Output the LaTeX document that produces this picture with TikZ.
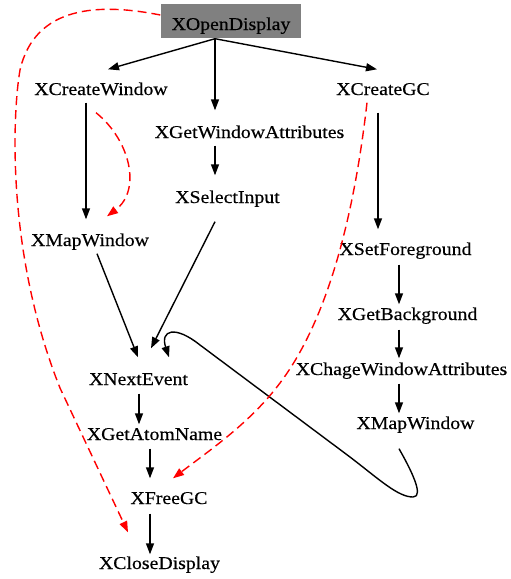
\documentclass[tikz,border=0pt]{standalone}
\usepackage{fontspec}
\setmainfont{Liberation Serif}[FakeStretch=1.1,FakeBold=0.4]
\usetikzlibrary{arrows.meta}
\begin{document}
\begin{tikzpicture}[x=1pt,y=-1pt,>={Triangle[length=11pt,width=8pt]},line width=1.4pt,line join=round,
  font=\fontsize{18}{20}\selectfont,
  lbl/.style={anchor=base,inner sep=0pt,text height=13pt,text depth=4pt},
  redge/.style={red,dash pattern=on 9pt off 5pt}]
\useasboundingbox (0,0) rectangle (511,579);
% nodes
\node[fill=gray,anchor=base,inner sep=0pt,text height=26pt,text depth=8pt,minimum width=140pt] (od) at (231,30) {XOpenDisplay};
\node[lbl] (cw) at (101,95) {XCreateWindow};
\node[lbl] (cgc) at (383,95) {XCreateGC};
\node[lbl] (gwa) at (249.5,138) {XGetWindowAttributes};
\node[lbl] (si) at (227.5,203) {XSelectInput};
\node[lbl] (mwa) at (90,246) {XMapWindow};
\node[lbl] (sf) at (405.5,255) {XSetForeground};
\node[lbl] (gb) at (407.5,320) {XGetBackground};
\node[lbl] (cwa) at (401.5,375) {XChageWindowAttributes};
\node[lbl] (mwb) at (415.5,429) {XMapWindow};
\node[lbl] (ne) at (138.5,385) {XNextEvent};
\node[lbl] (gan) at (154.5,440) {XGetAtomName};
\node[lbl] (fgc) at (169,504) {XFreeGC};
\node[lbl] (cd) at (159.5,569) {XCloseDisplay};
% black edges
\draw[->] ([xshift=-16pt]od.south) -- ([xshift=7pt,yshift=12pt]cw.north);
\draw[->] ([xshift=-16pt]od.south) -- ([xshift=-34.5pt,yshift=14pt]gwa.north);
\draw[->] ([xshift=-16pt]od.south) -- ([xshift=-6pt,yshift=12pt]cgc.north);
\draw[->] ([xshift=-15pt,yshift=-3pt]cw.south) -- ([xshift=-4pt,yshift=13pt]mwa.north);
\draw[->] ([xshift=-34.5pt,yshift=-3pt]gwa.south) -- ([xshift=-12.5pt,yshift=14pt]si.north);
\draw[->] ([xshift=-12.5pt,yshift=-14pt]si.south) -- ([xshift=12.5pt,yshift=23pt]ne.north);
\draw[->] ([xshift=7pt,yshift=-3pt]mwa.south) -- ([xshift=-0.5pt,yshift=14pt]ne.north);
\draw[->] ([xshift=-5pt,yshift=-13pt]cgc.south) -- ([xshift=-27.5pt,yshift=12pt]sf.north);
\draw[->] ([xshift=-6.5pt,yshift=-5pt]sf.south) -- ([xshift=-8.5pt,yshift=2pt]gb.north);
\draw[->] ([xshift=-8.5pt,yshift=-5pt]gb.south) -- ([xshift=-2.5pt,yshift=3pt]cwa.north);
\draw[->] ([xshift=-2.5pt,yshift=-4pt]cwa.south) -- ([xshift=-16.5pt,yshift=2pt]mwb.north);
\draw[->] ([xshift=0.5pt,yshift=-4pt]ne.south) -- ([xshift=-15.5pt,yshift=2pt]gan.north);
\draw[->] ([xshift=-4.5pt,yshift=-4pt]gan.south) -- ([xshift=-19pt,yshift=12pt]fgc.north);
\draw[->] ([xshift=-19pt,yshift=-5pt]fgc.south) -- ([xshift=-9.5pt,yshift=1pt]cd.north);
% loop back to XNextEvent
\draw[->] ([xshift=-16.5pt,yshift=-15pt]mwb.south) .. controls (410,468) and (425,497) .. (413,497)
  .. controls (398,497) and (380,480) .. (350,457) -- (200,345)
  .. controls (175,325) and (160,330) .. ([xshift=30.5pt,yshift=14pt]ne.north);
% red dashed edges
\draw[->,redge] ([xshift=-5pt,yshift=-13pt]cw.south) .. controls (130,140) and (142,190) .. ([xshift=17pt,yshift=16pt]mwa.north);
\draw[->,redge] ([xshift=-16pt,yshift=-3pt]cgc.south) .. controls (357,190) and (335,310) .. (280,383)
  .. controls (250,423) and (210,450) .. ([xshift=4pt,yshift=12pt]fgc.north);
\draw[->,redge] ([yshift=6pt]od.west) .. controls (100,3) and (35,5) .. (20,70)
  .. controls (13,110) and (5,250) .. (60,388) -- ([xshift=-31.5pt,yshift=23pt]cd.north);
\end{tikzpicture}
\end{document}
